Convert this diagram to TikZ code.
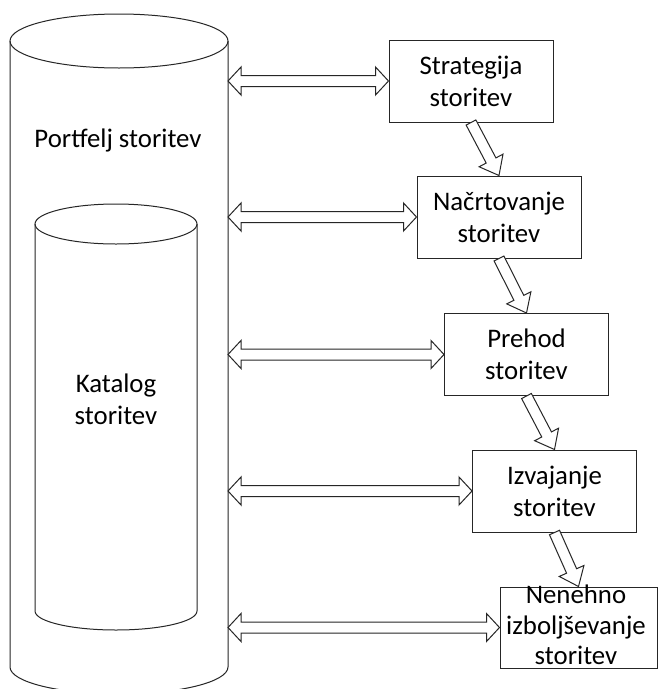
\documentclass[tikz,border=0pt]{standalone}
\usepackage{fontspec}
\setmainfont{Carlito}
\usetikzlibrary{calc}

% hollow block arrow with two heads, from #1 to #2
\newcommand\dblarrow[2]{%
  \path ($(#2)!13pt!(#1)$) coordinate (ha) ($(#1)!13pt!(#2)$) coordinate (hb);
  \draw[blk] (#1) -- ($(hb)!14pt!90:(#2)$) -- ($(hb)!5.5pt!90:(#2)$)
    -- ($(ha)!5.5pt!-90:(#1)$) -- ($(ha)!14pt!-90:(#1)$) -- (#2)
    -- ($(ha)!14pt!90:(#1)$) -- ($(ha)!5.5pt!90:(#1)$)
    -- ($(hb)!5.5pt!-90:(#2)$) -- ($(hb)!14pt!-90:(#2)$) -- cycle;}

% hollow block arrow with one head, from #1 to #2
\newcommand\slantarrow[2]{%
  \path ($(#2)!17pt!(#1)$) coordinate (ha);
  \draw[blk] ($(#1)!5.5pt!90:(#2)$) -- ($(ha)!5.5pt!-90:(#1)$)
    -- ($(ha)!13.5pt!-90:(#1)$) -- (#2) -- ($(ha)!13.5pt!90:(#1)$)
    -- ($(ha)!5.5pt!90:(#1)$) -- ($(#1)!5.5pt!-90:(#2)$) -- cycle;}

\tikzset{
  txt/.style={font=\fontsize{26.8pt}{32pt}\selectfont},
  boxnode/.style={draw, txt, minimum width=164pt, minimum height=82pt,
    inner sep=0pt, align=center},
  lbl/.style={txt, align=center, inner sep=0pt},
  blk/.style={draw, fill=white, line join=miter},
}

\begin{document}
\begin{tikzpicture}[x=1pt, y=-1pt, line width=1pt, draw=black!85]
\useasboundingbox (0,0) rectangle (658,689);
\clip (0,0) rectangle (658,689);
\fill[white] (0,0) rectangle (658,689);

% outer cylinder: service portfolio
\draw (10,41) -- (10,667) arc[start angle=180, end angle=360, x radius=109pt, y radius=27pt] -- (228,41);
\draw (119,41) ellipse [x radius=109pt, y radius=27pt];
\coordinate (portR) at (228,41);
\node[lbl] (portTxt) at (118,140) {Portfelj storitev};

% inner cylinder: service catalogue
\draw (35,224) -- (35,611) arc[start angle=180, end angle=360, x radius=81pt, y radius=19pt] -- (197,224);
\draw (116,224) ellipse [x radius=81pt, y radius=20pt];
\node[lbl] (katTxt) at (116,399) {Katalog\\storitev};

% lifecycle stages
\node[boxnode] (b1) at (471,81) {Strategija\\storitev};
\node[boxnode] (b2) at (499,217) {Načrtovanje\\storitev};
\node[boxnode] (b3) at (526.5,354.5) {Prehod\\storitev};
\node[boxnode] (b4) at (554.5,491) {Izvajanje\\storitev};
\node[draw, minimum width=157pt, minimum height=81pt, inner sep=0pt] (b5) at (578.5,627.5) {};
\node[lbl, font=\fontsize{26.8pt}{30.5pt}\selectfont] (b5txt) at (576,625) {Nenehno\\izboljševanje\\storitev};

% links between portfolio and stages
\foreach \i in {1,...,5} {
  \coordinate (t\i) at (b\i.west -| portR);
  \dblarrow{t\i}{b\i.west}
}

% flow between stages
\slantarrow{b1.south}{b2.north}
\slantarrow{b2.south}{b3.north}
\slantarrow{b3.south}{b4.north}
\slantarrow{b4.south}{b5.north}
\end{tikzpicture}
\end{document}
